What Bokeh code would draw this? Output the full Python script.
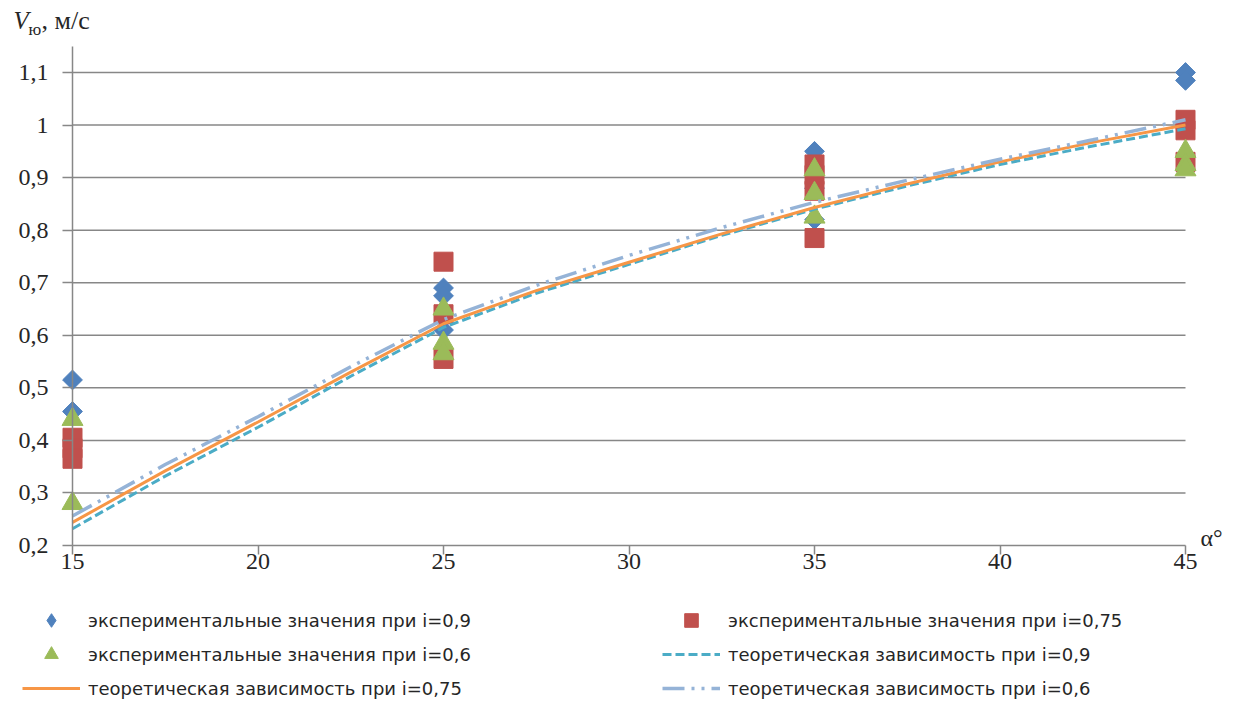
import numpy as np
from bokeh.plotting import figure
from bokeh.models import (Range1d, Label, Legend, LegendItem, FixedTicker,
                          CustomJSTickFormatter)
from bokeh.embed import file_html
from bokeh.resources import INLINE

# ---------------- data ----------------
exp09_x = [15, 15, 25, 25, 25, 35, 35, 35, 45, 45]
exp09_y = [0.515, 0.455, 0.69, 0.675, 0.61, 0.95, 0.88, 0.82, 1.10, 1.085]

exp075_x = [15, 15, 15, 25, 25, 25, 35, 35, 35, 35, 45, 45, 45]
exp075_y = [0.405, 0.385, 0.365, 0.74, 0.64, 0.555, 0.925, 0.905, 0.875, 0.785, 1.01, 0.99, 0.93]

exp06_x = [15, 15, 25, 25, 25, 35, 35, 35, 45, 45, 45]
exp06_y = [0.44, 0.28, 0.65, 0.585, 0.565, 0.915, 0.87, 0.825, 0.95, 0.925, 0.915]

theory_alpha = [15, 17.5, 20, 22.5, 25, 27.5, 30, 32.5, 35, 37.5, 40, 42.5, 45]
theory09 = [0.232, 0.332, 0.425, 0.522, 0.615, 0.68, 0.735, 0.79, 0.84, 0.884, 0.925, 0.96, 0.993]
theory075 = [0.244, 0.342, 0.435, 0.53, 0.622, 0.685, 0.739, 0.793, 0.843, 0.888, 0.93, 0.967, 1.0]
theory06 = [0.256, 0.354, 0.445, 0.54, 0.63, 0.695, 0.752, 0.805, 0.853, 0.895, 0.935, 0.972, 1.01]

x_ticks = [15, 20, 25, 30, 35, 40, 45]
y_ticks = [0.2, 0.3, 0.4, 0.5, 0.6, 0.7, 0.8, 0.9, 1.0, 1.1]
y_top = 1.15

label_exp09 = "экспериментальные значения при i=0,9"
label_exp075 = "экспериментальные значения при i=0,75"
label_exp06 = "экспериментальные значения при i=0,6"
label_th09 = "теоретическая зависимость при i=0,9"
label_th075 = "теоретическая зависимость при i=0,75"
label_th06 = "теоретическая зависимость при i=0,6"

# ---------------- styling / layout ----------------
BLUE = "#4F81BD"
RED = "#C0504D"
GREEN = "#9BBB59"
TEAL = "#4BACC6"
ORANGE = "#F79646"
LBLUE = "#95B3D7"
AXIS = "#878787"
TXT = "#262626"
SERIF = "Liberation Serif"

W, H = 1226, 699
X0, X1 = x_ticks[0], x_ticks[-1]
Y0 = y_ticks[0]
# pixel positions of the axes on the canvas
PX_X0, PX_X1 = 72, 1185
PX_Y0, PX_Y1 = 545, 72          # y=0.2 and y=1.1
sx = (PX_X1 - PX_X0) / (X1 - X0)
sy = (PX_Y0 - PX_Y1) / (y_ticks[-1] - Y0)
x_range = Range1d(X0 - PX_X0 / sx, X1 + (W - PX_X1) / sx)
y_range = Range1d(Y0 - (H - PX_Y0) / sy, Y0 + PX_Y0 / sy)

p = figure(width=W, height=H, output_backend="svg", toolbar_location=None,
           x_range=x_range, y_range=y_range, title=None,
           min_border_left=0, min_border_right=0,
           min_border_top=0, min_border_bottom=0)
p.outline_line_color = None
p.background_fill_color = "white"
p.border_fill_color = "white"
p.xgrid.visible = False
p.ygrid.visible = False

fmt = CustomJSTickFormatter(code="const v = Math.round(tick*10)/10; return v.toString().replace('.', ',');")

xa = p.xaxis[0]
xa.fixed_location = Y0
xa.ticker = FixedTicker(ticks=x_ticks)
xa.bounds = (X0, X1)
xa.formatter = fmt
xa.axis_line_color = AXIS
xa.axis_line_width = 1.5
xa.major_tick_line_color = AXIS
xa.major_tick_line_width = 1.5
xa.major_tick_out = 9
xa.major_tick_in = 0
xa.minor_tick_line_color = None
xa.major_label_text_font = SERIF
xa.major_label_text_font_size = "24px"
xa.major_label_text_color = TXT
xa.major_label_standoff = -1

ya = p.yaxis[0]
ya.fixed_location = X0
ya.ticker = FixedTicker(ticks=y_ticks)
ya.bounds = (Y0, y_top)
ya.formatter = fmt
ya.axis_line_color = AXIS
ya.axis_line_width = 1.5
ya.major_tick_line_color = AXIS
ya.major_tick_line_width = 1.5
ya.major_tick_out = 10
ya.major_tick_in = 0
ya.minor_tick_line_color = None
ya.major_label_text_font = SERIF
ya.major_label_text_font_size = "24px"
ya.major_label_text_color = TXT
ya.major_label_standoff = 14

# horizontal gridlines between x=15 and x=45
p.segment(x0=X0, x1=X1, y0=y_ticks[1:], y1=y_ticks[1:],
          line_color=AXIS, line_width=1.5, level="underlay")

# markers
# plain diamond glyph (used as the legend swatch), fully covered by the rotated squares
r1_leg = p.scatter(exp09_x, exp09_y, marker="diamond", size=17,
                   fill_color=BLUE, line_color=BLUE)
r1 = p.scatter(exp09_x, exp09_y, marker="square", angle=np.pi / 4, size=14,
               fill_color=BLUE, line_color=BLUE)
r2 = p.scatter(exp075_x, exp075_y, marker="square", size=19,
               fill_color=RED, line_color=RED)
r3 = p.scatter(exp06_x, exp06_y, marker="triangle", size=21,
               fill_color=GREEN, line_color=GREEN)

# theoretical curves
r4 = p.line(theory_alpha, theory09, line_color=TEAL, line_width=3, line_dash="9 4")
r5 = p.line(theory_alpha, theory075, line_color=ORANGE, line_width=3)
r6 = p.line(theory_alpha, theory06, line_color=LBLUE, line_width=3.5, line_dash="22 7 3 7 3 7")

# legend is filled column by column: left column first, then right column
items = [
    LegendItem(label=label_exp09, renderers=[r1_leg]),
    LegendItem(label=label_exp06, renderers=[r3]),
    LegendItem(label=label_th075, renderers=[r5]),
    LegendItem(label=label_exp075, renderers=[r2]),
    LegendItem(label=label_th09, renderers=[r4]),
    LegendItem(label=label_th06, renderers=[r6]),
]
legend = Legend(items=items, ncols=2, location=(22, -6),
                glyph_width=58, glyph_height=34, label_height=34,
                label_width=574, label_standoff=8, spacing=0,
                margin=0, padding=0, border_line_color=None,
                background_fill_alpha=0,
                label_text_font="DejaVu Sans", label_text_font_size="18px",
                label_text_color=TXT)
p.add_layout(legend, "center")

# axis titles
p.add_layout(Label(x=X0, y=y_top, x_offset=-59, y_offset=12, text="V",
                   text_font=SERIF, text_font_style="italic", text_font_size="25px",
                   text_color=TXT))
p.add_layout(Label(x=X0, y=y_top, x_offset=-44, y_offset=7, text="ю",
                   text_font=SERIF, text_font_size="17px", text_color=TXT))
p.add_layout(Label(x=X0, y=y_top, x_offset=-31, y_offset=11, text=", м/с",
                   text_font=SERIF, text_font_size="26px", text_color=TXT))
p.add_layout(Label(x=X1, y=Y0, x_offset=15, y_offset=-5, text="α°",
                   text_font=SERIF, text_font_size="24px", text_color=TXT))

open("out.html", "w").write(file_html(p, INLINE))
